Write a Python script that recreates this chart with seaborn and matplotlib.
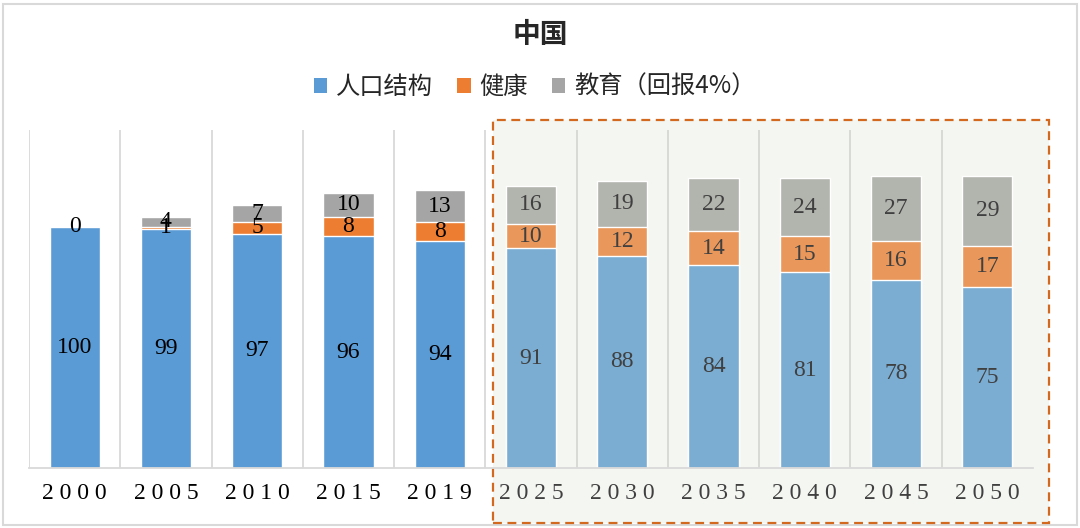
import matplotlib
matplotlib.use("Agg")
import matplotlib.pyplot as plt
from matplotlib.patches import Patch, Rectangle
import seaborn as sns
import pandas as pd

# 数据
years = ["2000", "2005", "2010", "2015", "2019", "2025", "2030", "2035", "2040", "2045", "2050"]
period = ["hist"] * 5 + ["proj"] * 6
renkou = [100, 99, 97, 96, 94, 91, 88, 84, 81, 78, 75]
jiankang = [0, 1, 5, 8, 8, 10, 12, 14, 15, 16, 17]
jiaoyu = [0, 4, 7, 10, 13, 16, 19, 22, 24, 27, 29]
series_names = ["人口结构", "健康", "教育（回报4%）"]

df = pd.DataFrame({"year": years, "period": period,
                   "renkou": renkou, "jiankang": jiankang, "jiaoyu": jiaoyu})
df["lvl2"] = df.renkou + df.jiankang
df["lvl3"] = df.lvl2 + df.jiaoyu

blue = {"hist": "#5b9bd5", "proj": "#7badd3"}
orange = {"hist": "#ed7d31", "proj": "#e9975a"}
gray = {"hist": "#a5a5a5", "proj": "#b2b4ae"}
txt_col = {"hist": "#000000", "proj": "#404040"}

sns.set_style("white")
plt.rcParams["font.family"] = ["Liberation Serif", "Noto Sans CJK SC"]

fig = plt.figure(figsize=(10.8, 5.28), dpi=100)
ax = fig.add_axes([29 / 1080, 1 - 468 / 528, (1033 - 29) / 1080, (468 - 130) / 528])
ax.set_facecolor("none")

# 外框和预测区域
fig.add_artist(Rectangle((3 / 1080, 1 - 525 / 528), 1074 / 1080, 521 / 528,
                         transform=fig.transFigure, fill=False,
                         edgecolor="#d9d9d9", lw=1.5, zorder=-2))
fig.add_artist(Rectangle((493 / 1080, 1 - 523 / 528), 556 / 1080, 403 / 528,
                         transform=fig.transFigure, facecolor="#f4f6f1",
                         edgecolor="#d2691e", lw=1.6, ls=(0, (4, 2.5)), zorder=-1))

w = 0.55
sns.barplot(data=df, x="year", y="lvl3", hue="period", palette=gray, dodge=False,
            width=w, legend=False, ax=ax, saturation=1)
sns.barplot(data=df, x="year", y="lvl2", hue="period", palette=orange, dodge=False,
            width=w, legend=False, ax=ax, saturation=1)
sns.barplot(data=df, x="year", y="renkou", hue="period", palette=blue, dodge=False,
            width=w, legend=False, ax=ax, saturation=1)

# 数据标签
for i, r in df.iterrows():
    c = txt_col[r.period]
    fs = 17
    ax.text(i, r.renkou / 2, f"{r.renkou}", ha="center", va="center", fontsize=fs, color=c)
    if r.jiankang > 0:
        ax.text(i, r.renkou + r.jiankang / 2, f"{r.jiankang}", ha="center", va="center",
                fontsize=fs, color=c)
    ax.text(i, r.lvl2 + r.jiaoyu / 2, f"{r.jiaoyu}", ha="center", va="center",
            fontsize=fs, color=c)

ax.set_ylim(0, 140)
ax.set_xlim(-0.5, len(years) - 0.5)
for i in range(len(years)):
    gc = "#d9d9d9" if i < 6 else "#d6d8d3"
    ax.axvline(i - 0.5, color=gc, lw=1.3, zorder=0)
ax.set_yticks([])
ax.set_xlabel("")
ax.set_ylabel("")
ax.set_xticks(range(len(years)))
ax.set_xticklabels([" ".join(y) for y in years], fontsize=17)
for lab, p in zip(ax.get_xticklabels(), period):
    lab.set_color("#000000" if p == "hist" else "#404040")
ax.tick_params(axis="x", length=0, pad=11)
for s in ["top", "right", "left"]:
    ax.spines[s].set_visible(False)
ax.spines["bottom"].set_color("#d9d9d9")
ax.spines["bottom"].set_linewidth(1.3)

fig.text(0.5, 1 - 35 / 528, "中国", ha="center", va="center", fontsize=20,
         fontweight="bold", family=["Noto Sans CJK SC"])

handles = [Patch(facecolor=c["hist"], edgecolor="none") for c in (blue, orange, gray)]
fig.legend(handles, series_names, loc="center", bbox_to_anchor=(0.495, 1 - 87 / 528),
           ncol=3, frameon=False, handlelength=0.55, handleheight=0.55,
           handletextpad=0.35, columnspacing=1.0,
           prop={"family": ["Noto Sans CJK SC"], "size": 17.5})

fig.savefig("out.png", dpi=100)
